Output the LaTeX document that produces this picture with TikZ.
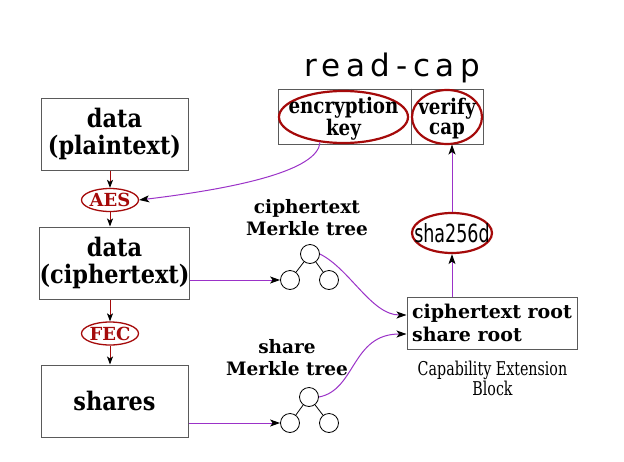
\documentclass[tikz,border=0pt]{standalone}
\usepackage{fontspec}
\setmainfont{DejaVu Serif}
\newfontfamily\boxfont[FakeStretch=0.88]{DejaVu Serif}
\newfontfamily\capfont[FakeStretch=0.85]{DejaVu Serif}
\newfontfamily\cebfont[FakeStretch=0.75]{DejaVu Serif}
\newfontfamily\shafont[FakeStretch=0.7]{DejaVu Sans}
\newfontfamily\rcfont[LetterSpace=18]{DejaVu Sans}
\usetikzlibrary{shapes.geometric,arrows.meta,calc}
\definecolor{dred}{RGB}{165,10,10}
\definecolor{purp}{RGB}{155,50,200}
\definecolor{bgray}{RGB}{90,90,90}
\begin{document}
\begin{tikzpicture}[x=1pt,y=-1pt,
 databox/.style={draw=bgray,line width=1pt,rectangle,minimum width=147pt,minimum height=72pt,inner sep=0pt,align=center,font=\boxfont\bfseries\fontsize{25.5}{27}\selectfont},
 opell/.style={ellipse,draw=dred,line width=1.3pt,minimum width=57pt,minimum height=23pt,inner sep=0pt},
 optext/.style={inner sep=0pt,text=dred,font=\bfseries\fontsize{18}{20}\selectfont},
 capell/.style={ellipse,draw=dred,line width=2.2pt,inner sep=0pt},
 captext/.style={inner sep=0pt,align=center,font=\capfont\bfseries\fontsize{21.5}{20}\selectfont},
 tcirc/.style={circle,draw=black,line width=0.8pt,minimum size=19pt,inner sep=0pt},
 tedge/.style={draw=black,line width=0.8pt},
 lbl/.style={align=center,inner sep=0pt,font=\bfseries\fontsize{18.5}{22}\selectfont},
 rline/.style={draw=dred,line width=1pt,-{Stealth[length=8pt,width=6pt,inset=2pt,color=black]}},
 pline/.style={draw=purp,line width=1pt,-{Stealth[length=10pt,width=7pt,inset=2.5pt,color=black]}},
]
\useasboundingbox (0,0) rectangle (624,461);
\fill[white] (0,0) rectangle (624,461);

% read-cap
\node[inner sep=0pt,anchor=base,font=\rcfont\fontsize{31}{32}\selectfont] (rc) at (392,76) {read-cap};
\node[draw=bgray,line width=1pt,minimum width=205pt,minimum height=55pt,inner sep=0pt] (capbox) at (380.5,116.5) {};
\draw[bgray,line width=1pt] (capbox.north -| 411,0) -- (capbox.south -| 411,0);
\node[capell,minimum width=129pt,minimum height=52pt] (enc) at (343.5,117) {};
\node[captext] (enct) at (343.5,119) {encryption\\key};
\node[capell,minimum width=70pt,minimum height=54pt] (ver) at (447,117) {};
\node[captext] (vert) at (447,119) {verify\\cap};

% left column
\node[databox] (plain) at (114.5,134) {data\\(plaintext)};
\node[opell] (aes) at (110,200) {};
\node[optext] (aest) at (aes) {AES};
\node[databox] (ciph) at (114.5,263) {data\\(ciphertext)};
\node[opell] (fec) at (110,333.5) {};
\node[optext] (fect) at (fec) {FEC};
\node[databox] (shares) at (114.5,401) {shares};

\draw[rline] (plain.south -| aes) -- (aes.north);
\draw[rline] (aes.south) -- (aes |- ciph.north);
\draw[rline] (ciph.south -| fec) -- (fec.north);
\draw[rline] (fec.south) -- (fec |- shares.north);

% merkle trees
\node[lbl] (ctl) at (307,218) {ciphertext\\Merkle tree};
\node[tcirc] (ct) at (310,254) {};
\node[tcirc] (ctL) at (290,280) {};
\node[tcirc] (ctR) at (329,280) {};
\draw[tedge] (ct) -- (ctL);
\draw[tedge] (ct) -- (ctR);

\node[lbl] (stl) at (287,358) {share\\Merkle tree};
\node[tcirc] (st) at (309,397) {};
\node[tcirc] (stL) at (290,423) {};
\node[tcirc] (stR) at (329,423) {};
\draw[tedge] (st) -- (stL);
\draw[tedge] (st) -- (stR);

% root box
\node[draw=bgray,line width=1pt,minimum width=170pt,minimum height=52pt,inner sep=0pt,align=left,font=\bfseries\fontsize{19}{23}\selectfont] (root) at (492,323) {ciphertext root\\share root};
\node[inner sep=0pt,align=center,font=\cebfont\fontsize{19}{20}\selectfont] (ceb) at (492.5,378) {Capability Extension\\Block};

% sha256d
\node[capell,minimum width=80pt,minimum height=40pt] (sha) at (452,233) {};
\node[inner sep=0pt,font=\shafont\fontsize{25}{25}\selectfont] (shat) at (sha) {sha256d};

% purple connectors
\draw[pline] ([xshift=-23.5pt,yshift=1.8pt]enc.south) .. controls +(-2,28) and +(100,-12) .. (aes.east);
\draw[pline] (ciph.east |- ctL) -- (ctL.west);
\draw[pline] (shares.east |- stL) -- (stL.west);
\draw[pline] (ct.east) .. controls +(30,15) and +(-35,0) .. ([yshift=8pt]root.west);
\draw[pline] (st.east) .. controls +(37,-7) and +(-55,0) .. ([yshift=-11pt]root.west);
\draw[pline] (root.north -| sha) -- (sha.south);
\draw[pline] (sha.north) -- (sha.north |- capbox.south);
\end{tikzpicture}
\end{document}
